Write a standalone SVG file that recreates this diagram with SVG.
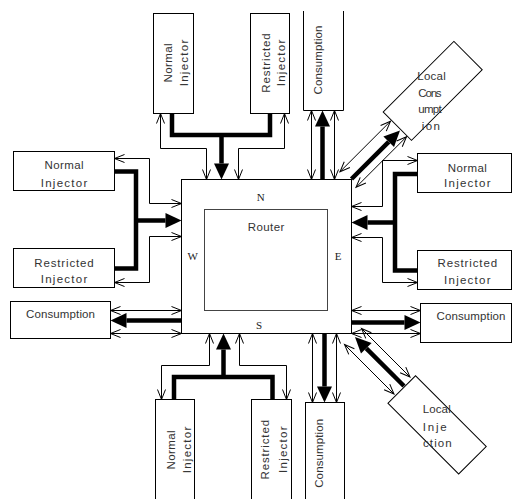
<svg xmlns="http://www.w3.org/2000/svg" width="512" height="499" viewBox="0 0 512 499">
<style>
.box{fill:#fff;stroke:#000;stroke-width:1}
.t{font-family:"Liberation Sans",Arial,sans-serif;font-size:11.5px;fill:#333}
.c{text-anchor:middle}
.s{font-family:"Liberation Serif","Times New Roman",serif;font-size:11px;fill:#222;text-anchor:middle}
.thin{fill:none;stroke:#000;stroke-width:1;marker-start:url(#oa);marker-end:url(#oa)}
.thick{fill:none;stroke:#000;stroke-width:4.5;stroke-linejoin:miter}
.tha{fill:none;stroke:#000;stroke-width:4.5;marker-end:url(#fa)}
</style>
<defs>
<marker id="oa" markerUnits="userSpaceOnUse" viewBox="-11 -5 12 10" refX="0" refY="0" markerWidth="12" markerHeight="10" orient="auto-start-reverse" overflow="visible">
<path d="M-10,-4 L0,0 L-10,4" fill="none" stroke="#000" stroke-width="1"/>
</marker>
<marker id="fa" markerUnits="userSpaceOnUse" viewBox="0 -8 17 16" refX="0" refY="0" markerWidth="17" markerHeight="16" orient="auto" overflow="visible">
<path d="M0,-7.5 L16,0 L0,7.5 Z" fill="#000"/>
</marker>
</defs>
<rect width="512" height="499" fill="#fff"/>

<g id="connectors">
<!-- top -->
<path class="thick" d="M172,113.5 V135 H270 V113.5"/>
<path class="tha" d="M221.5,133 V163.5"/>
<path class="thin" d="M160.5,113.5 V148.5 H206.5 V179.5"/>
<path class="thin" d="M238.5,179.5 V148.5 H284.5 V113.5"/>
<path class="thin" d="M311.5,110.5 V179.5"/>
<path class="thin" d="M334.5,110.5 V179.5"/>
<path class="tha" d="M322.5,179.5 V126.5"/>
<!-- bottom -->
<path class="thick" d="M174,399.5 V377 H272.5 V399.5"/>
<path class="tha" d="M223.5,379 V349.5"/>
<path class="thin" d="M209.5,333.5 V365.5 H161.5 V399.5"/>
<path class="thin" d="M239.5,333.5 V365.5 H286.5 V399.5"/>
<path class="thin" d="M312.5,333.5 V402.5"/>
<path class="thin" d="M336.5,333.5 V402.5"/>
<path class="tha" d="M324.5,333.5 V386.5"/>
<!-- left -->
<path class="thick" d="M114.5,171.5 H136 V268.5 H114.5"/>
<path class="tha" d="M134,220.5 H165.5"/>
<path class="thin" d="M114.5,158.5 H149.5 V203.5 H181.5"/>
<path class="thin" d="M114.5,282.5 H149.5 V236.5 H181.5"/>
<path class="thin" d="M110.5,310.5 H181.5"/>
<path class="thin" d="M110.5,333.5 H181.5"/>
<path class="tha" d="M181.5,320.5 H126.5"/>
<!-- right -->
<path class="thick" d="M417.5,174 H395 V270.5 H417.5"/>
<path class="tha" d="M397,222.5 H367.5"/>
<path class="thin" d="M351.5,206.5 H382.5 V160.5 H417.5"/>
<path class="thin" d="M351.5,237.5 H382.5 V282.5 H417.5"/>
<path class="thin" d="M351.5,310.5 H420.5"/>
<path class="thin" d="M351.5,333.5 H420.5"/>
<path class="tha" d="M351.5,322.5 H404.5"/>
<!-- diagonal top-right -->
<path class="tha" d="M351.5,179 L388.7,141.8"/>
<path class="thin" d="M340,171.7 L390.5,121.2"/>
<path class="thin" d="M356,187.3 L406.5,136.8"/>
<!-- diagonal bottom-right -->
<path class="tha" d="M404,386 L366.3,348.3"/>
<path class="thin" d="M361.5,328.5 L410,377"/>
<path class="thin" d="M344.5,344.5 L394,394"/>
</g>

<g id="router">
<rect class="box" x="181.5" y="179.5" width="170" height="154"/>
<rect x="204.5" y="209.5" width="123" height="101" fill="none" stroke="#444" stroke-width="1"/>
<text class="t c" x="266" y="231" textLength="36.7" lengthAdjust="spacing">Router</text>
<text class="s" x="260.7" y="200.5">N</text>
<text class="s" x="259" y="329">S</text>
<text class="s" x="192.7" y="260">W</text>
<text class="s" x="338" y="260">E</text>
</g>

<g id="top-normal-injector">
<rect class="box" x="153.5" y="13.5" width="40" height="100"/>
<text class="t c" x="172" y="63" transform="rotate(-90 172 63)" textLength="39" lengthAdjust="spacing">Normal</text>
<text class="t c" x="188" y="63" transform="rotate(-90 188 63)" textLength="46.5" lengthAdjust="spacing">Injector</text>
</g>
<g id="top-restricted-injector">
<rect class="box" x="250.5" y="13.5" width="39" height="100"/>
<text class="t c" x="269.5" y="63" transform="rotate(-90 269.5 63)" textLength="59.5" lengthAdjust="spacing">Restricted</text>
<text class="t c" x="285" y="63" transform="rotate(-90 285 63)" textLength="46.5" lengthAdjust="spacing">Injector</text>
</g>
<g id="top-consumption">
<path d="M303.5,11 V110.5 H343.5 V11" fill="#fff" stroke="#000" stroke-width="1"/>
<text class="t c" x="321.5" y="60" transform="rotate(-90 321.5 60)" textLength="69" lengthAdjust="spacing">Consumption</text>
</g>

<g id="bottom-normal-injector">
<rect class="box" x="155.5" y="399.5" width="39" height="110"/>
<text class="t c" x="175" y="450" transform="rotate(-90 175 450)" textLength="39" lengthAdjust="spacing">Normal</text>
<text class="t c" x="191" y="450" transform="rotate(-90 191 450)" textLength="46.5" lengthAdjust="spacing">Injector</text>
</g>
<g id="bottom-restricted-injector">
<rect class="box" x="251.5" y="399.5" width="40" height="110"/>
<text class="t c" x="269.5" y="449.7" transform="rotate(-90 269.5 449.7)" textLength="59.5" lengthAdjust="spacing">Restricted</text>
<text class="t c" x="287.5" y="449.7" transform="rotate(-90 287.5 449.7)" textLength="46.5" lengthAdjust="spacing">Injector</text>
</g>
<g id="bottom-consumption">
<rect class="box" x="305.5" y="402.5" width="39" height="110"/>
<text class="t c" x="322.7" y="453.3" transform="rotate(-90 322.7 453.3)" textLength="69" lengthAdjust="spacing">Consumption</text>
</g>

<g id="left-normal-injector">
<rect class="box" x="13.5" y="151.5" width="101" height="39"/>
<text class="t c" x="64" y="169.3" textLength="39" lengthAdjust="spacing">Normal</text>
<text class="t c" x="64" y="186.5" textLength="46.5" lengthAdjust="spacing">Injector</text>
</g>
<g id="left-restricted-injector">
<rect class="box" x="13.5" y="248.5" width="101" height="39"/>
<text class="t c" x="64" y="266.7" textLength="59.5" lengthAdjust="spacing">Restricted</text>
<text class="t c" x="64" y="282.7" textLength="46.5" lengthAdjust="spacing">Injector</text>
</g>
<g id="left-consumption">
<rect class="box" x="10.5" y="301.5" width="100" height="37"/>
<text class="t c" x="60.5" y="318.3" textLength="69" lengthAdjust="spacing">Consumption</text>
</g>

<g id="right-normal-injector">
<rect class="box" x="417.5" y="153.5" width="94" height="39"/>
<text class="t c" x="467.3" y="171.7" textLength="39" lengthAdjust="spacing">Normal</text>
<text class="t c" x="467.3" y="187.3" textLength="46.5" lengthAdjust="spacing">Injector</text>
</g>
<g id="right-restricted-injector">
<rect class="box" x="417.5" y="250.5" width="94" height="39"/>
<text class="t c" x="467.3" y="267.3" textLength="59.5" lengthAdjust="spacing">Restricted</text>
<text class="t c" x="467.3" y="284.3" textLength="46.5" lengthAdjust="spacing">Injector</text>
</g>
<g id="right-consumption">
<rect class="box" x="420.5" y="303.5" width="91" height="39"/>
<text class="t c" x="471" y="320" textLength="69" lengthAdjust="spacing">Consumption</text>
</g>

<g id="local-consumption">
<rect class="box" x="-50" y="-20" width="100" height="40" transform="translate(432.7 90.9) rotate(-45)"/>
<text class="t" x="417.3" y="79.5" textLength="28.5" lengthAdjust="spacing">Local</text>
<text class="t" x="418.3" y="96.5" textLength="23.3" lengthAdjust="spacing">Cons</text>
<text class="t" x="418.3" y="113" textLength="23.3" lengthAdjust="spacing">umpt</text>
<text class="t" x="421.7" y="129.5" textLength="18.3" lengthAdjust="spacing">ion</text>
</g>
<g id="local-injection">
<rect class="box" x="-50" y="-19.5" width="100" height="39" transform="translate(437.1 424.85) rotate(45)"/>
<text class="t" x="422.7" y="413.3" textLength="28" lengthAdjust="spacing">Local</text>
<text class="t" x="422.7" y="430.7" textLength="24" lengthAdjust="spacing">Inje</text>
<text class="t" x="423" y="446.7" textLength="28.7" lengthAdjust="spacing">ction</text>
</g>
</svg>
